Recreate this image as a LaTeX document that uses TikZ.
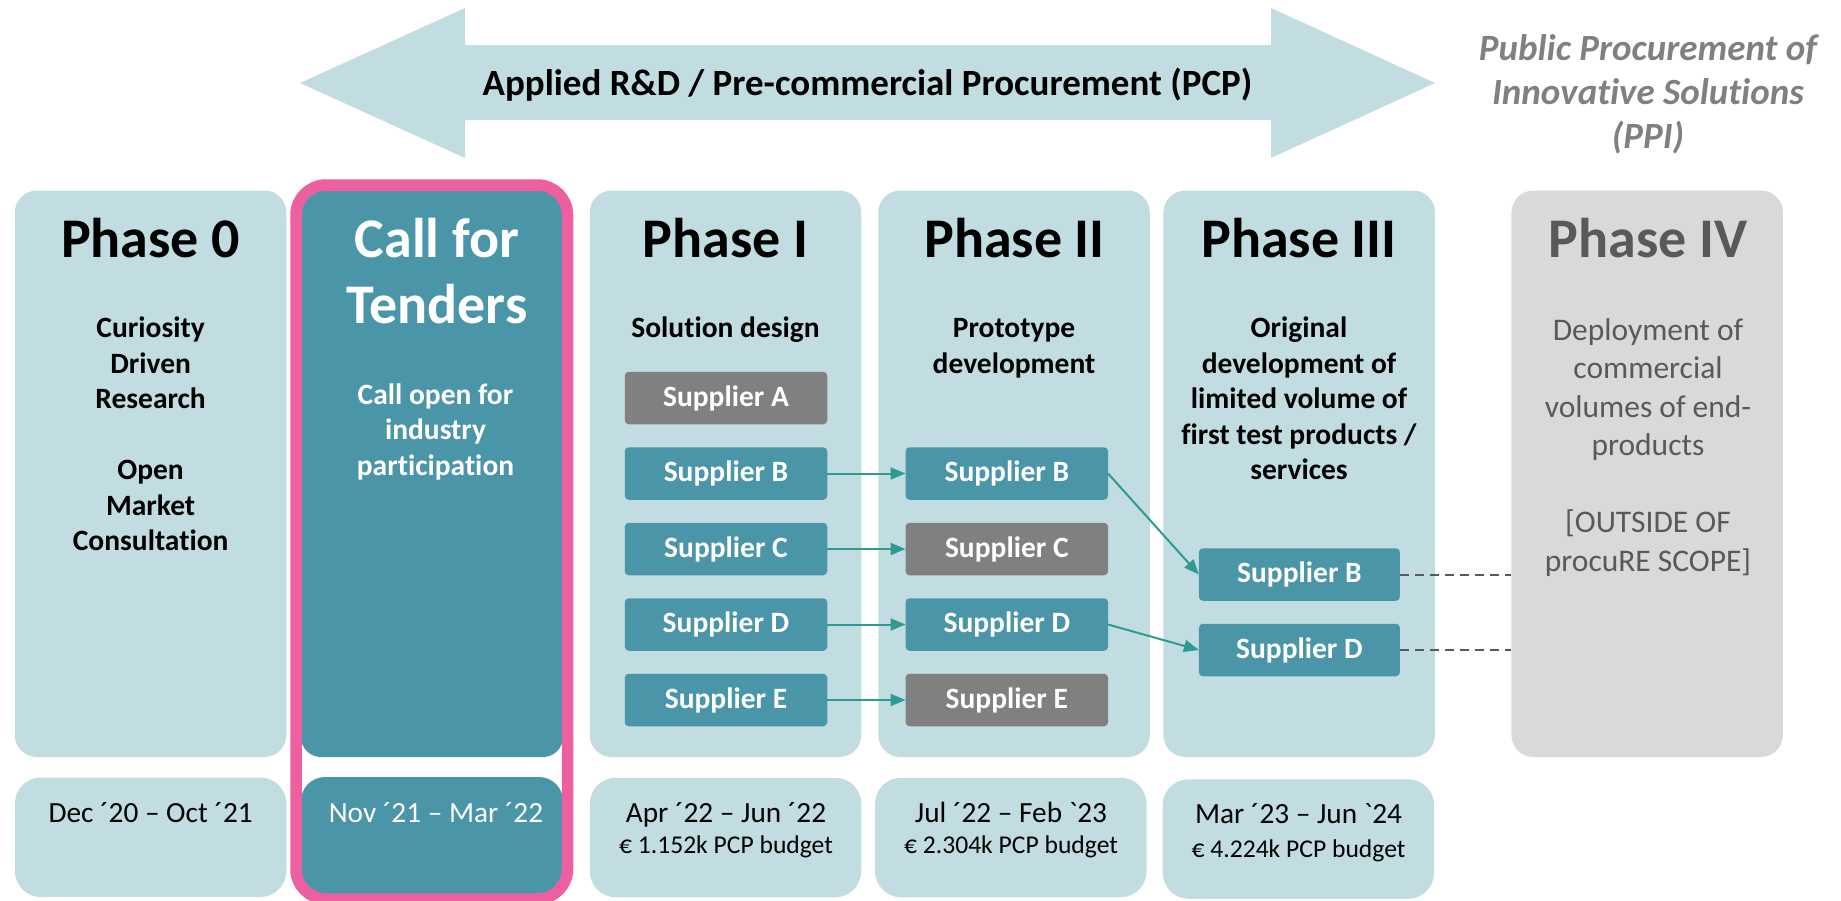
\documentclass[tikz,border=0pt]{standalone}
\usepackage{fontspec}
\newfontfamily\carl{Carlito}[Ligatures=NoCommon]
\usetikzlibrary{arrows.meta}
\definecolor{lteal}{HTML}{C2DDE1}
\definecolor{dteal}{HTML}{4A96A8}
\definecolor{sgray}{HTML}{808080}
\definecolor{pinkc}{HTML}{EE5FA0}
\definecolor{pfour}{HTML}{D9D9D9}
\definecolor{dgray}{HTML}{595959}
\definecolor{arrteal}{HTML}{2E9A94}
\definecolor{ppigray}{HTML}{808080}
\newcommand\fs[2]{\fontsize{#1}{#2}\selectfont}
\newcommand\mlines[1]{\begin{tabular}[t]{@{}c@{}}#1\end{tabular}}
\begin{document}
\begin{tikzpicture}[x=1pt,y=-1pt,
  box/.style={inner sep=0pt, outer sep=0pt, draw=none},
  phasebox/.style={box, fill=lteal, rounded corners=22pt, minimum width=271.5pt, minimum height=566.5pt},
  datebox/.style={box, fill=lteal, rounded corners=26pt, minimum width=271.5pt, minimum height=119.5pt},
  supp/.style={box, fill=dteal, rounded corners=4pt, minimum width=202.5pt, minimum height=52.5pt,
     text=white, font=\carl\bfseries\fs{29.5}{34}},
  suppg/.style={supp, fill=sgray},
  txt/.style={anchor=base, inner sep=0pt, outer sep=0pt},
  title/.style={txt, font=\carl\bfseries\fs{56}{66}},
  sub/.style={txt, font=\carl\bfseries\fs{29.5}{35.5}},
  datet/.style={txt, font=\carl\fs{29.3}{31}},
  budget/.style={txt, font=\carl\fs{25.6}{31}},
  flow/.style={draw=arrteal, line width=2pt, -{Triangle[length=15pt,width=12pt]}},
  dashline/.style={draw=dgray, line width=2pt, dash pattern=on 9pt off 6pt}
]
\useasboundingbox (0,0) rectangle (1841,900);

% big double arrow
\fill[lteal] (300,83) -- (465,8) -- (465,45) -- (1271,45) -- (1271,8) -- (1435,83)
  -- (1271,158) -- (1271,120) -- (465,120) -- (465,158) -- cycle;
\node[txt, font=\carl\bfseries\fs{37}{44}] (bar) at (867.5,95.5)
  {Applied R\&D / Pre-commercial Procurement (PCP)};

% PPI label
\node[txt, text=ppigray, font=\carl\bfseries\itshape\fs{37}{44}] (ppi) at (1648,60)
  {\mlines{Public Procurement of\\Innovative Solutions\\(PPI)}};

% phase boxes
\node[phasebox] (p0) at (150.6,473.75) {};
\node[phasebox, fill=dteal, rounded corners=20pt, minimum width=262pt, minimum height=572pt] (pT) at (432,471) {};
\node[phasebox] (p1) at (725.5,473.75) {};
\node[phasebox] (p2) at (1014,473.75) {};
\node[phasebox] (p3) at (1299.2,473.75) {};
\node[phasebox, fill=pfour] (p4) at (1647.2,473.75) {};

% date boxes
\node[datebox] (d0) at (150.6,837.25) {};
\node[datebox, fill=dteal, rounded corners=24pt, minimum width=262pt, minimum height=120pt] (dT) at (432,837) {};
\node[datebox] (d1) at (725.5,837.5) {};
\node[datebox] (d2) at (1010.8,837.5) {};
\node[datebox] (d3) at (1298.4,839) {};

% pink frame
\node[box, draw=pinkc, line width=11.5pt, rounded corners=30pt, minimum width=271.5pt, minimum height=714pt] (frame) at (431.75,542) {};

% titles
\node[title] (t0) at (150.6,257) {Phase 0};
\node[title, text=white] (tT) at (437,257) {\mlines{Call for\\Tenders}};
\node[title] (t1) at (725.5,257) {Phase I};
\node[title] (t2) at (1014.5,257) {Phase II};
\node[title] (t3) at (1299,257) {Phase III};
\node[title, text=dgray] (t4) at (1648,257) {Phase IV};

% subtitles
\node[sub] (s0) at (150.6,337.5) {\mlines{Curiosity\\Driven\\Research\\ \\Open\\Market\\Consultation}};
\node[sub, text=white] (sT) at (435.5,404) {\mlines{Call open for\\industry\\participation}};
\node[sub] (s1) at (725.5,337.5) {Solution design};
\node[sub] (s2) at (1014,337.5) {\mlines{Prototype\\development}};
\node[sub] (s3) at (1299,337.5) {\mlines{Original\\development of\\limited volume of\\first test products /\\services}};
\node[txt, text=dgray, font=\carl\fs{31.5}{38.5}] (s4) at (1648,340)
  {\mlines{Deployment of\\commercial\\volumes of end-\\products\\ \\{[}OUTSIDE OF\\procuRE SCOPE{]}}};

% suppliers phase I
\node[suppg] (aA) at (726,398) {Supplier A};
\node[supp] (aB) at (726,473.5) {Supplier B};
\node[supp] (aC) at (726,549) {Supplier C};
\node[supp] (aD) at (726,624.5) {Supplier D};
\node[supp] (aE) at (726,700) {Supplier E};
% suppliers phase II
\node[supp] (bB) at (1006.8,473.5) {Supplier B};
\node[suppg] (bC) at (1006.8,549) {Supplier C};
\node[supp] (bD) at (1006.8,624.5) {Supplier D};
\node[suppg] (bE) at (1006.8,700) {Supplier E};
% suppliers phase III
\node[supp, minimum width=201pt] (cB) at (1299.4,574.5) {Supplier B};
\node[supp, minimum width=201pt] (cD) at (1299.4,650) {Supplier D};

% connectors
\draw[flow] (aB) -- (bB);
\draw[flow] (aC) -- (bC);
\draw[flow] (aD) -- (bD);
\draw[flow] (aE) -- (bE);
\draw[flow] (bB.east) -- (cB.west);
\draw[flow] (bD.east) -- (cD.west);
\draw[dashline] (cB.east) -- (cB.east -| p4.west);
\draw[dashline] (cD.east) -- (cD.east -| p4.west);

% dates
\node[datet] (e0) at (150.6,822) {Dec ´20 – Oct ´21};
\node[datet, text=white] (eT) at (436,822) {Nov ´21 – Mar ´22};
\node[datet] (e1) at (726,822) {Apr ´22 – Jun ´22};
\node[budget] (f1) at (726,853.5) {€ 1.152k PCP budget};
\node[datet] (e2) at (1011,822) {Jul ´22 – Feb `23};
\node[budget] (f2) at (1011,853.5) {€ 2.304k PCP budget};
\node[datet] (e3) at (1298.5,823.5) {Mar ´23 – Jun `24};
\node[budget] (f3) at (1298.5,857.5) {€ 4.224k PCP budget};
\end{tikzpicture}
\end{document}
